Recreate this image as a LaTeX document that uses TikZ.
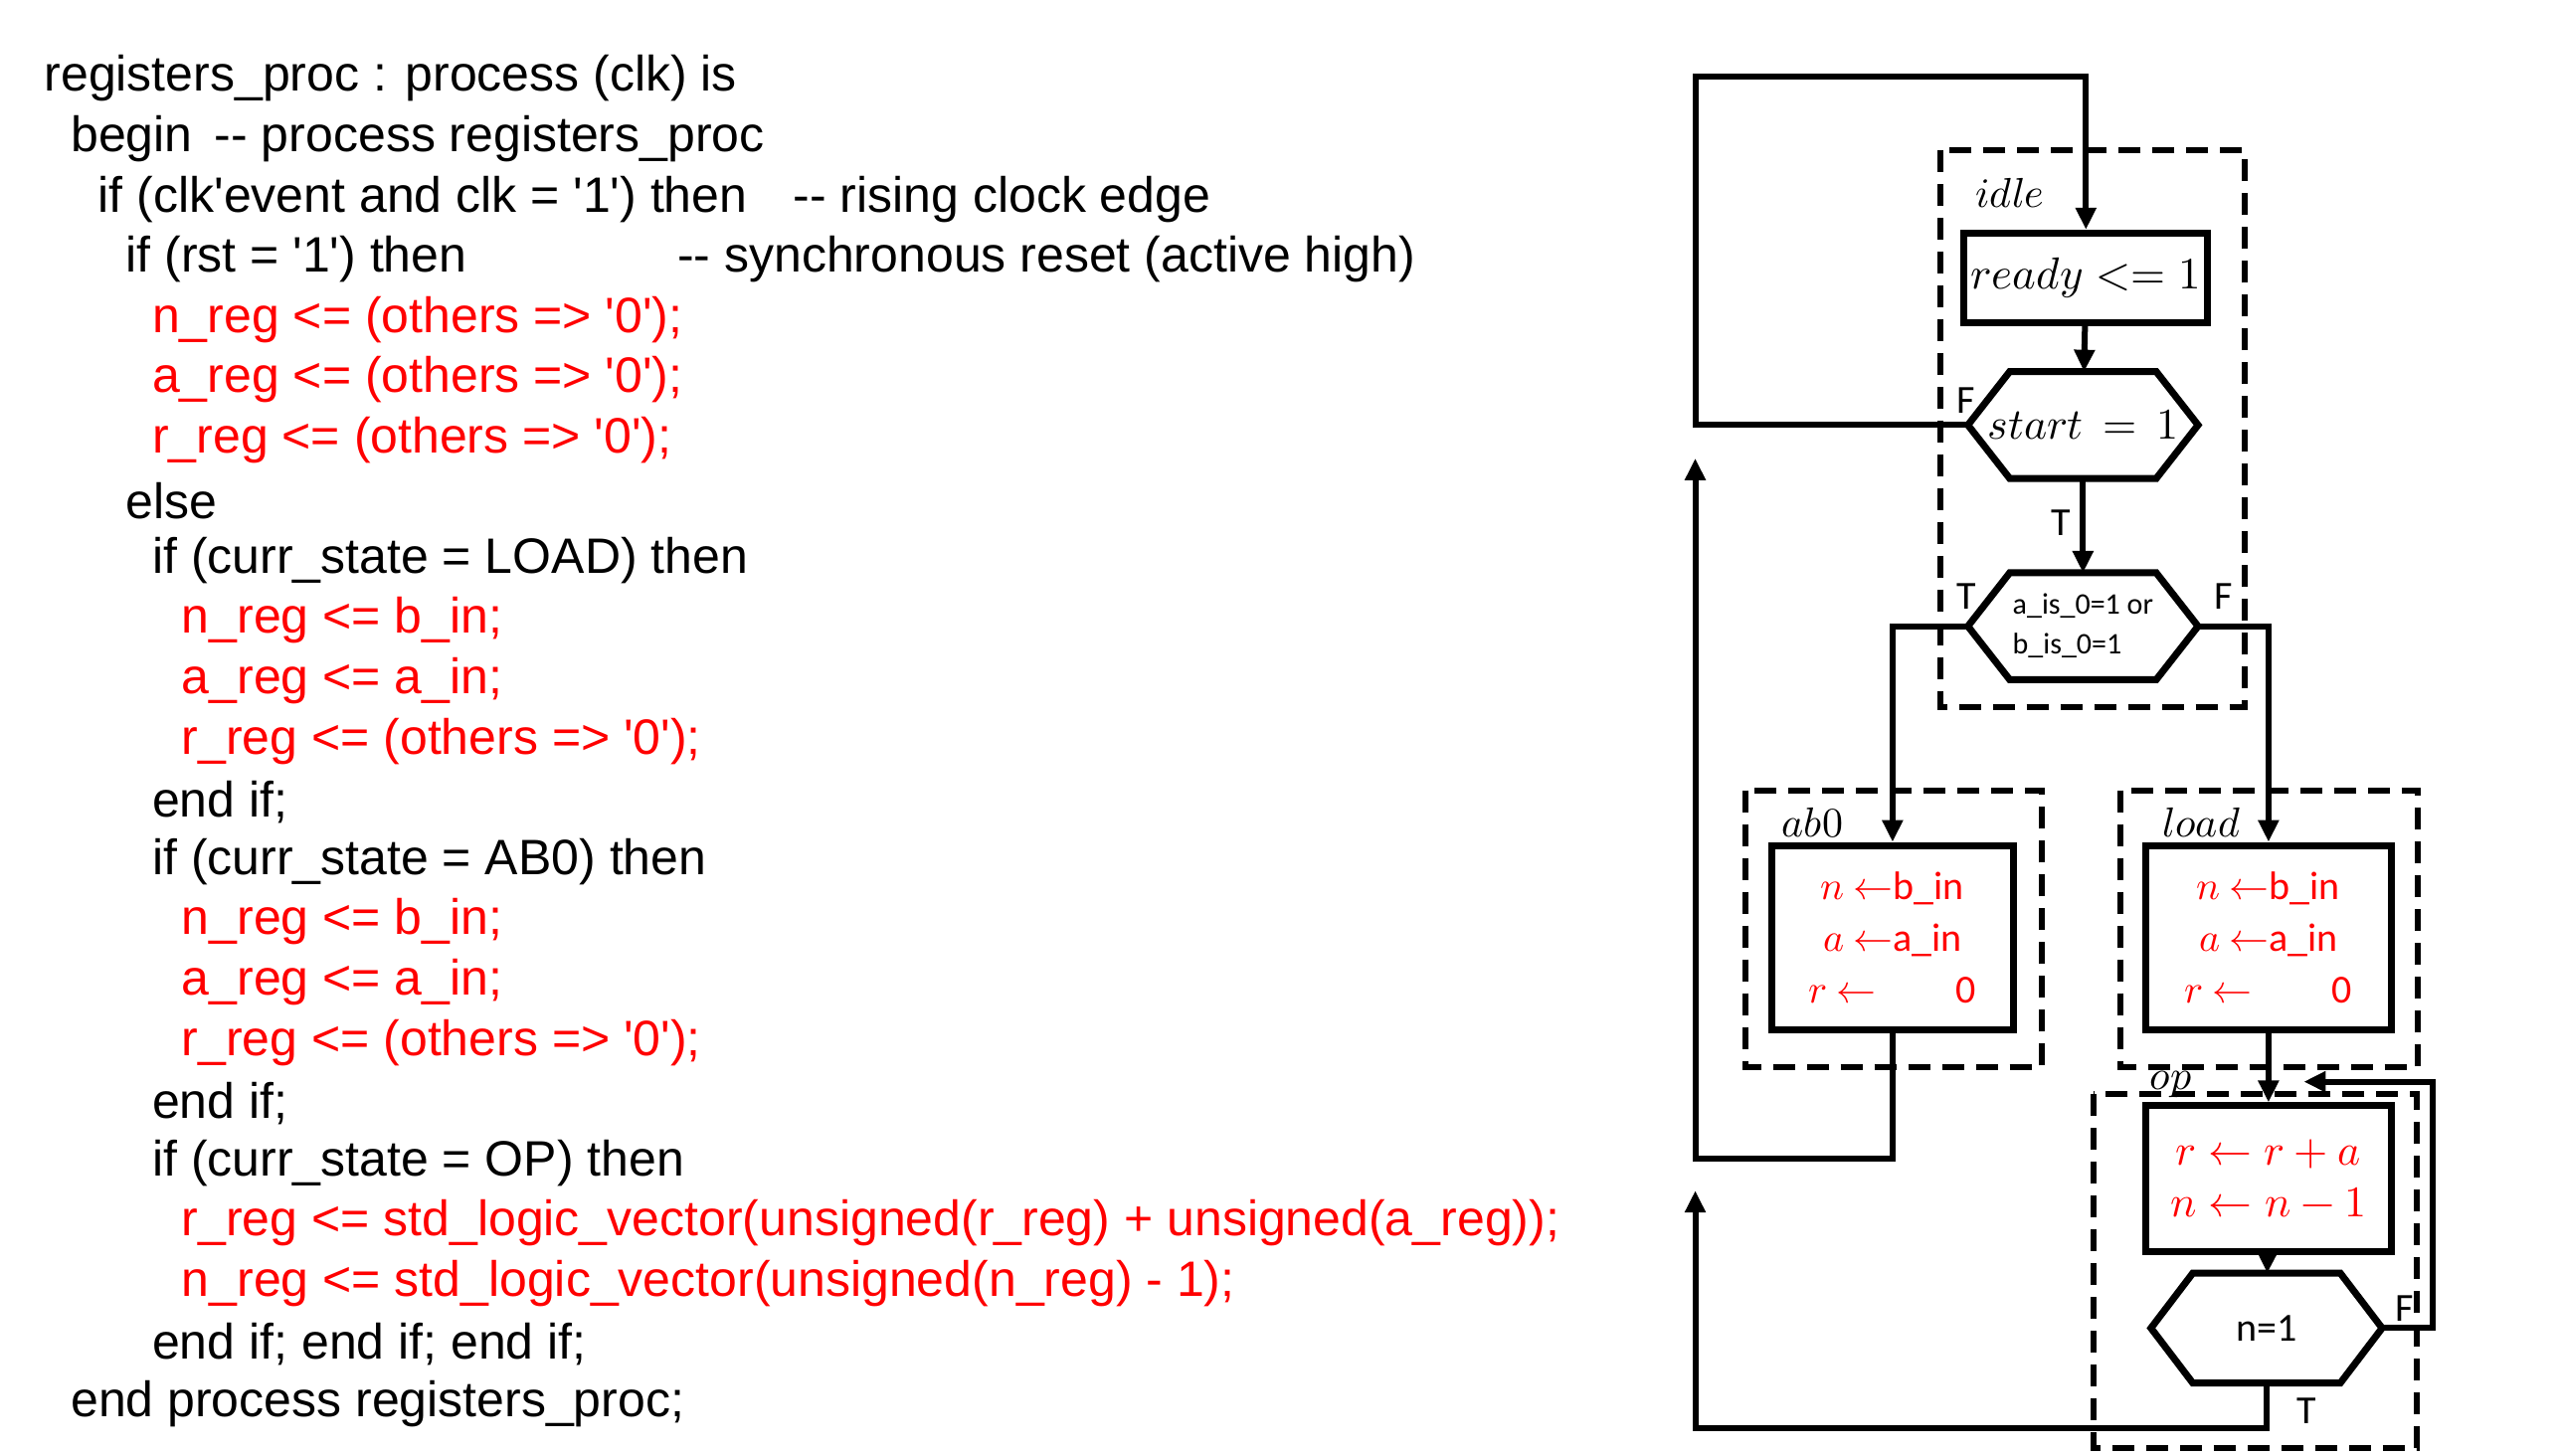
\documentclass[tikz,border=0pt]{standalone}
\usepackage{fontspec}
\usepackage{unicode-math}
\setmathfont{Latin Modern Math}
\setsansfont{Liberation Sans}
\newfontfamily\chartfont{Carlito}
\usetikzlibrary{positioning,arrows.meta}
\tikzset{
  line/.style={line width=6pt,-{Triangle[length=22pt,width=20pt]}},
  state/.style={draw,dashed,dash pattern=on 22pt off 12pt,line width=6pt},
  box/.style={draw,line width=7pt,inner sep=0pt,align=center},
  code/.style={anchor=west,inner sep=0pt,font=\sffamily\fontsize{50}{55}\selectfont},
  red code/.style={code,text=red},
  lbl/.style={inner sep=0pt,font=\fontsize{42}{48}\selectfont},
  tf/.style={inner sep=0pt,font=\chartfont\fontsize{40}{44}\selectfont},
  act/.style={box,text=red,font=\chartfont\fontsize{40}{52}\selectfont}
}
\newcommand{\hexa}[2]{% node name, chamfer
  \draw[line width=7pt,line join=miter] (#1.west) -- ([xshift=#2]#1.north west) -- ([xshift=-#2]#1.north east)
    -- (#1.east) -- ([xshift=-#2]#1.south east) -- ([xshift=#2]#1.south west) -- cycle;}
\newcommand{\q}{\textquotesingle}
\begin{document}
\begin{tikzpicture}[x=0.987pt,y=-0.987pt]
\useasboundingbox (0,0) rectangle (2609,1483);
% code
\node[code] (l1) at (45,80) {registers\_proc : process (clk) is};
\node[code] (l2) at (72,141) {begin \,-{}- process registers\_proc};
\node[code] (l3) at (100,203) {if (clk\q event and clk = \q 1\q) then};
\node[code] (c3) at (808,203) {-{}- rising clock edge};
\node[code] (l4) at (128,264) {if (rst = \q 1\q) then};
\node[code] (c4) at (690,264) {-{}- synchronous reset (active high)};
\node[red code] (l5) at (155,326) {n\_reg <= (others => \q 0\q);};
\node[red code] (l6) at (155,387) {a\_reg <= (others => \q 0\q);};
\node[red code] (l7) at (155,448) {r\_reg <= (others => \q 0\q);};
\node[code] (l8) at (128,510) {else};
\node[code] (l9) at (155,571) {if (curr\_state = LOAD) then};
\node[red code] (l10) at (185,632) {n\_reg <= b\_in;};
\node[red code] (l11) at (185,694) {a\_reg <= a\_in;};
\node[red code] (l12) at (185,755) {r\_reg <= (others => \q 0\q);};
\node[code] (l13) at (155,817) {end if;};
\node[code] (l14) at (155,878) {if (curr\_state = AB0) then};
\node[red code] (l15) at (185,939) {n\_reg <= b\_in;};
\node[red code] (l16) at (185,1001) {a\_reg <= a\_in;};
\node[red code] (l17) at (185,1062) {r\_reg <= (others => \q 0\q);};
\node[code] (l18) at (155,1124) {end if;};
\node[code] (l19) at (155,1185) {if (curr\_state = OP) then};
\node[red code] (l20) at (185,1246) {r\_reg <= std\_logic\_vector(unsigned(r\_reg) + unsigned(a\_reg));};
\node[red code] (l21) at (185,1308) {n\_reg <= std\_logic\_vector(unsigned(n\_reg) - 1);};
\node[code] (l22) at (155,1369) {end if; end if; end if;};
\node[code] (l23) at (72,1430) {end process registers\_proc;};

% states
\draw[state] (1977,153) rectangle (2287,720);
\draw[state] (1778,805) rectangle (2080,1087);
\draw[state] (2160,805) rectangle (2463,1087);
\draw[state] (2133,1115) rectangle (2462,1475);
\node[lbl,anchor=west] (idle) at (2012,197) {$idle$};
\node[lbl,anchor=west] (ab0l) at (1815,838) {$ab0$};
\node[lbl,anchor=west] (loadl) at (2203,838) {$load$};
\node[lbl,anchor=west] (opl) at (2190,1105) {$op$};

% boxes
\node[box,minimum width=245pt,minimum height=90pt,font=\fontsize{45}{50}\selectfont] (ready) at (2125,283) {$ready <= 1$};
\node[minimum width=231pt,minimum height=107pt,inner sep=0pt,font=\fontsize{44}{48}\selectfont] (start) at (2122,433) {$start\,=\,1$};
\hexa{start}{42pt}
\node[minimum width=231pt,minimum height=107pt,inner sep=0pt,align=left,font=\chartfont\fontsize{30}{40}\selectfont] (zero) at (2122,638) {a\_is\_0=1 or\\b\_is\_0=1};
\hexa{zero}{42pt}
\node[act,minimum width=243pt,minimum height=185pt] (ab0) at (1928,955) {$n$ $\leftarrow$b\_in\\$a$ $\leftarrow$a\_in\\$r$ $\leftarrow$\qquad 0};
\node[act,minimum width=247pt,minimum height=185pt] (load) at (2311,955) {$n$ $\leftarrow$b\_in\\$a$ $\leftarrow$a\_in\\$r$ $\leftarrow$\qquad 0};
\node[act,minimum width=247pt,minimum height=147pt,font=\fontsize{44}{52}\selectfont] (op) at (2311,1201) {$r\leftarrow r+a$\\$n\leftarrow n-1$};
\node[minimum width=232pt,minimum height=110pt,inner sep=0pt,font=\chartfont\fontsize{40}{46}\selectfont] (cnt) at (2309,1353) {n=1};
\hexa{cnt}{42pt}

% connectors
\coordinate (top) at (1727,78);
\coordinate (ret1) at (1727,467);
\coordinate (ret2) at (1727,1213);
\coordinate (back) at (2347,1102);
\draw[line] (start.west) -| (top) -| (ready.north);
\draw[line] (ready) -- (start);
\draw[line] (start) -- (zero);
\draw[line] (zero.west) -| (ab0.north);
\draw[line] (zero.east) -| (load.north);
\draw[line] (ab0.south) |- (1727,1180) -- (ret1);
\draw[line] (load) -- (op);
\draw[line] (op) -- (cnt);
\draw[line] (cnt.east) -| (2478,1102) -- (back);
\draw[line] (cnt.south) |- (1727,1455) -- (ret2);
\node[tf] (fs) at (2003,408) {F};
\node[tf] (ts) at (2100,533) {T};
\node[tf] (tz) at (2003,608) {T};
\node[tf] (fz) at (2265,608) {F};
\node[tf] (fc) at (2450,1333) {F};
\node[tf] (tc) at (2350,1437) {T};
\end{tikzpicture}
\end{document}
